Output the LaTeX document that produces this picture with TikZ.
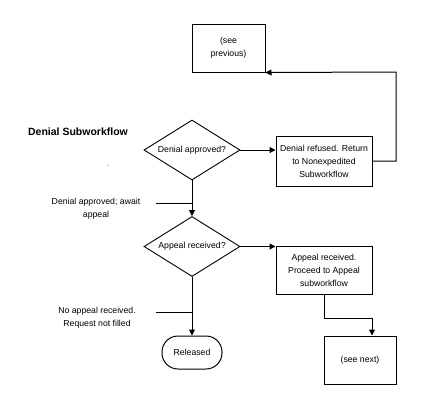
\documentclass[tikz,border=0pt]{standalone}
\usepackage{fontspec}
\setmainfont{Liberation Sans}
\usetikzlibrary{shapes.geometric,arrows.meta}

\begin{document}
\begin{tikzpicture}[
    x=1pt, y=-1pt,
    line width=1pt,
    box/.style={
      rectangle,
      draw=black,
      line width=1pt,
      align=center,
      inner sep=1pt,
      font=\fontsize{8.7}{13}\selectfont
    },
    decision/.style={
      diamond,
      draw=black,
      line width=0.9pt,
      aspect=1.6,
      inner sep=1pt,
      minimum width=96pt,
      minimum height=60pt,
      font=\fontsize{8.7}{13}\selectfont
    },
    terminal/.style={
      box,
      rounded corners=16pt,
      minimum width=60pt,
      minimum height=33pt
    },
    note/.style={
      align=center,
      inner sep=0pt,
      font=\fontsize{8.7}{13}\selectfont
    },
    arrow/.style={
      -{Triangle[length=6pt,width=6pt]}
    }
  ]
    \useasboundingbox (0,0) rectangle (432,408);

    % Title
    \node[font=\fontsize{10.5}{13}\bfseries] (title) at (78,132) {Denial Subworkflow};
    \node[note, font=\fontsize{6}{7}\selectfont] (mark) at (108,167) {'};

    % Top row
    \node[box, minimum width=73pt, minimum height=48pt] (prev) at (228.5,48) {(see\\previous)};

    % Row 1: Denial decision
    \node[decision] (denial) at (192,150) {Denial approved?};
    \node[box, minimum width=96pt, minimum height=50pt] (refused) at (324,161)
      {Denial refused. Return\\to Nonexpedited\\Subworkflow};

    % Row 2: Appeal decision
    \node[decision] (appealq) at (192,246.5) {Appeal received?};
    \node[box, minimum width=96pt, minimum height=48pt] (appeal) at (324,270)
      {Appeal received.\\Proceed to Appeal\\subworkflow};

    % Row 3: Outcomes
    \node[terminal] (released) at (192,352.5) {Released};
    \node[box, minimum width=72pt, minimum height=48pt] (next) at (360,360) {(see next)};

    % Side notes
    \node[note] (approvednote) at (96,209) {Denial approved; await\\appeal};
    \node[note] (noappealnote) at (97,318) {No appeal received.\\Request not filled};

    % Helper points
    \coordinate (loop) at (396,72);
    \coordinate (bend) at (372,318);
    \coordinate (j1) at (192,203);
    \coordinate (t1) at (156,203);
    \coordinate (j2) at (192,312);
    \coordinate (t2) at (156,312);

    % Connectors
    \draw[arrow] (denial.east) -- (denial.east -| refused.west);
    \draw[arrow] (refused.east) -| (loop) -- (prev.south east);
    \draw[arrow] (denial.south) -- (appealq.north);
    \draw (t1) -- (j1);
    \draw[arrow] (appealq.east) -- (appealq.east -| appeal.west);
    \draw[arrow] (appeal.south) |- (bend) -- (bend |- next.north);
    \draw[arrow] (appealq.south) -- (released.north);
    \draw (t2) -- (j2);

  \end{tikzpicture}
\end{document}
